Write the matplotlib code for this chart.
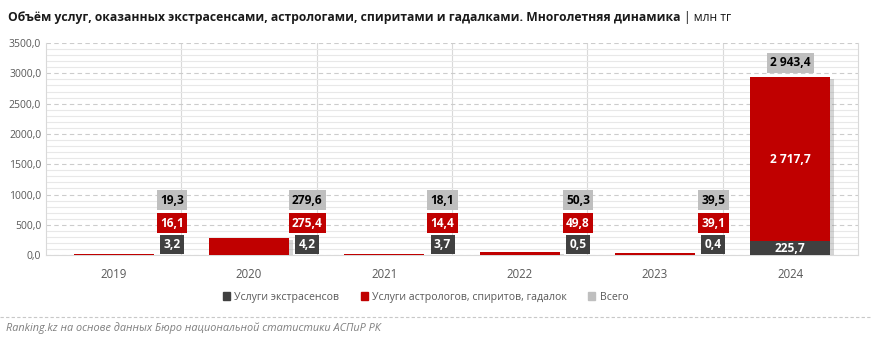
import matplotlib.pyplot as plt
import matplotlib.patheffects as pe
from matplotlib.lines import Line2D
from matplotlib.patches import Patch
from matplotlib.ticker import MultipleLocator, FuncFormatter

# data, mln tenge
years = ['2019', '2020', '2021', '2022', '2023', '2024']
psychics = [3.2, 4.2, 3.7, 0.5, 0.4, 225.7]
astrologers = [16.1, 275.4, 14.4, 49.8, 39.1, 2717.7]
totals = [19.3, 279.6, 18.1, 50.3, 39.5, 2943.4]

DARK = '#404040'
RED = '#C00000'
GREY = '#BFBFBF'
TXT = '#595959'

plt.rcParams['font.family'] = ['Open Sans', 'DejaVu Sans']


def fmt(v):
    s = f'{v:,.1f}'.replace(',', ' ').replace('.', ',')
    return s


fig = plt.figure(figsize=(8.72, 3.42), dpi=100)
ax = fig.add_axes([0.0528, 0.254, 0.9312, 0.62])

x = list(range(len(years)))
shadow = [pe.SimplePatchShadow(offset=(3, -1.5), shadow_rgbFace='#888888', alpha=0.35), pe.Normal()]
# red first so the dark segment covers its shadow
b2 = ax.bar(x, astrologers, width=0.59, bottom=psychics, color=RED, zorder=3)
b1 = ax.bar(x, psychics, width=0.59, color=DARK, zorder=3)
for bars in (b2, b1):
    for r in bars:
        r.set_path_effects(shadow)

ax.set_xlim(-0.5, len(years) - 0.5)
ax.set_ylim(0, 3500)
ax.yaxis.set_major_locator(MultipleLocator(500))
ax.yaxis.set_minor_locator(MultipleLocator(100))
ax.yaxis.set_major_formatter(FuncFormatter(lambda v, p: f'{v:.1f}'.replace('.', ',')))
ax.grid(axis='y', which='minor', color='#e8e8e8', lw=0.8, zorder=0)
ax.grid(axis='y', which='major', color='#cccccc', lw=0.8, ls=(0, (4, 3)), zorder=1)
for b in range(len(years) - 1):
    ax.axvline(b + 0.5, color='#d9d9d9', lw=0.8, zorder=1)

ax.set_xticks(x)
ax.set_xticklabels(years)
ax.tick_params(axis='both', which='both', length=0, colors=TXT, labelsize=7.5)
ax.tick_params(axis='x', pad=9, labelsize=8.3)
for side in ('left', 'right', 'bottom'):
    ax.spines[side].set_color('#d9d9d9')
    ax.spines[side].set_linewidth(0.8)
ax.spines['top'].set_visible(False)


def box(xp, yp, text, face, tc):
    ax.text(xp, yp, text, ha='center', va='center', fontsize=8.6, fontweight='bold', color=tc, zorder=5,
            bbox=dict(boxstyle='square,pad=0.28', fc=face, ec='none'))


# labels
for i in x:
    if i < len(years) - 1:
        box(i + 0.43, 175, fmt(psychics[i]), DARK, 'white')
        box(i + 0.43, 528, fmt(astrologers[i]), RED, 'white')
        box(i + 0.43, 905, fmt(totals[i]), GREY, 'black')
    else:
        ax.text(i, psychics[i] / 2, fmt(psychics[i]), ha='center', va='center', fontsize=8.6,
                fontweight='bold', color='white', zorder=5)
        ax.text(i, psychics[i] + astrologers[i] / 2, fmt(astrologers[i]), ha='center', va='center',
                fontsize=8.6, fontweight='bold', color='white', zorder=5)
        box(i, totals[i] + 230, fmt(totals[i]), GREY, 'black')

# title
t = fig.text(0.009, 0.95, 'Объём услуг, оказанных экстрасенсами, астрологами, спиритами и гадалками. Многолетняя динамика',
             fontsize=8.7, fontweight='bold', color='#1a1a1a', va='center')
fig.canvas.draw()
bb = t.get_window_extent()
fig.text(bb.x1 / fig.bbox.width + 0.004, 0.95, '| млн тг', fontsize=8.7, color='#1a1a1a', va='center')

handles = [Patch(color=DARK), Patch(color=RED), Patch(color=GREY)]
labels = ['Услуги экстрасенсов', 'Услуги астрологов, спиритов, гадалок', 'Всего']
fig.legend(handles, labels, loc='center', bbox_to_anchor=(0.488, 0.131), ncol=3, frameon=False,
           fontsize=7.6, handlelength=0.7, handleheight=0.7, handletextpad=0.4, columnspacing=2.0,
           labelcolor=TXT)

fig.add_artist(Line2D([0, 1], [0.073, 0.073], transform=fig.transFigure, color='#c8c8c8', lw=0.8, ls=(0, (3, 2))))
fig.text(0.007, 0.04, 'Ranking.kz на основе данных Бюро национальной статистики АСПиР РК', fontsize=7.8,
         style='italic', color='#7f7f7f', va='center')

fig.savefig('out.png', dpi=100)
